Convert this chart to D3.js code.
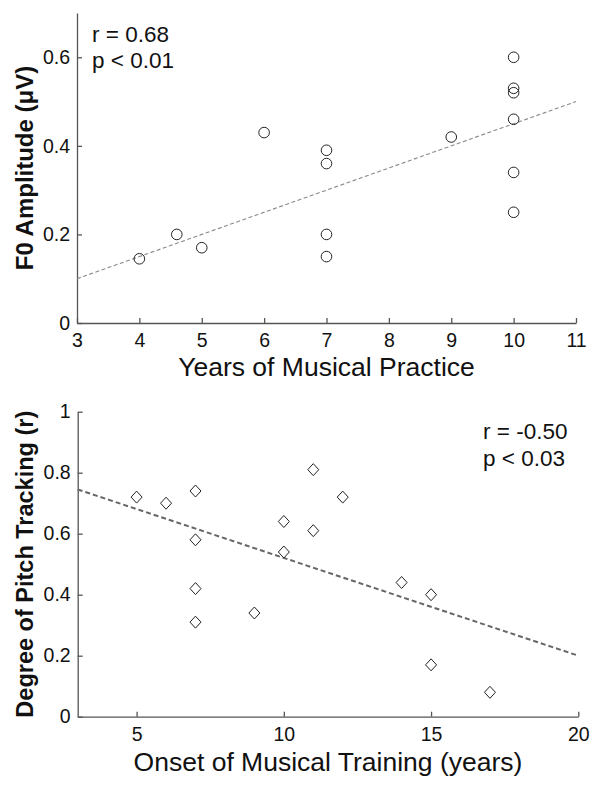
<!DOCTYPE html>
<html>
<head>
<meta charset="utf-8">
<script src="https://cdn.jsdelivr.net/npm/d3@7"></script>
<style>
  body { margin: 0; background: #fff; }
  svg { display: block; font-family: "Liberation Sans", Arial, sans-serif; }
</style>
</head>
<body>
<script>
// top panel: years of practice vs F0 amplitude
var practiceYears = [4, 4.6, 5, 6, 7, 7, 7, 7, 9, 10, 10, 10, 10, 10, 10];
var f0Amplitude = [0.145, 0.2, 0.17, 0.43, 0.39, 0.36, 0.2, 0.15, 0.42, 0.6, 0.53, 0.52, 0.46, 0.34, 0.25];
var topFit = [{x: 3, y: 0.1}, {x: 11, y: 0.5}];
var topXTicks = [3, 4, 5, 6, 7, 8, 9, 10, 11];
var topYTicks = [0, 0.2, 0.4, 0.6];

// bottom panel: onset age vs pitch tracking
var onsetAge = [5, 6, 7, 7, 7, 7, 9, 10, 10, 11, 11, 12, 14, 15, 15, 17];
var pitchTracking = [0.72, 0.70, 0.74, 0.58, 0.42, 0.31, 0.34, 0.64, 0.54, 0.81, 0.61, 0.72, 0.44, 0.40, 0.17, 0.08];
var bottomFit = [{x: 3, y: 0.745}, {x: 20, y: 0.2}];
var bottomXTicks = [5, 10, 15, 20];
var bottomYTicks = [0, 0.2, 0.4, 0.6, 0.8, 1];

var svg = d3.select('body').append('svg')
  .attr('width', 601)
  .attr('height', 789);

function drawAxes(g, x, y, xTicks, yTicks, yFmt) {
  var xAxis = g.append('g')
    .attr('transform', 'translate(0,' + y.range()[0] + ')')
    .call(d3.axisBottom(x).tickValues(xTicks).tickSizeInner(-5).tickSizeOuter(0).tickPadding(10).tickFormat(d3.format('d')));
  var yAxis = g.append('g')
    .attr('transform', 'translate(' + x.range()[0] + ',0)')
    .call(d3.axisLeft(y).tickValues(yTicks).tickSizeInner(-5).tickSizeOuter(0).tickPadding(7).tickFormat(yFmt));
  [xAxis, yAxis].forEach(function (a) {
    a.selectAll('path, line').attr('stroke', '#555').attr('stroke-width', 1.3);
    a.selectAll('text').attr('fill', '#111').style('font-size', '19.5px').style('font-family', '"Liberation Sans", Arial, sans-serif');
  });
}

// ---- top chart
var x1 = d3.scaleLinear().domain([3, 11]).range([77, 576]);
var y1 = d3.scaleLinear().domain([0, 0.7]).range([323, 13]);
var topG = svg.append('g');

drawAxes(topG, x1, y1, topXTicks, topYTicks, function (d) { return d === 0 ? '0' : d3.format('.1f')(d); });

var line1 = d3.line()
  .x(function (d) { return x1(d.x); })
  .y(function (d) { return y1(d.y); });

topG.append('path')
  .attr('d', line1(topFit))
  .attr('fill', 'none')
  .attr('stroke', '#888')
  .attr('stroke-width', 1.1)
  .attr('stroke-dasharray', '4,2.5');

topG.selectAll('circle.pt')
  .data(practiceYears)
  .enter()
  .append('circle')
  .attr('class', 'pt')
  .attr('cx', function (d) { return x1(d); })
  .attr('cy', function (d, i) { return y1(f0Amplitude[i]); })
  .attr('r', 5.3)
  .attr('fill', 'none')
  .attr('stroke', '#222')
  .attr('stroke-width', 1);

topG.append('text').attr('x', 92).attr('y', 42).style('font-size', '22.5px').attr('fill', '#111').text('r = 0.68');
topG.append('text').attr('x', 92).attr('y', 68).style('font-size', '22.5px').attr('fill', '#111').text('p < 0.01');

topG.append('text')
  .attr('x', (x1.range()[0] + x1.range()[1]) / 2)
  .attr('y', 376)
  .attr('text-anchor', 'middle')
  .style('font-size', '26.5px')
  .attr('fill', '#111')
  .text('Years of Musical Practice');

topG.append('text')
  .attr('transform', 'translate(33,' + (y1.range()[0] + y1.range()[1]) / 2 + ') rotate(-90)')
  .attr('text-anchor', 'middle')
  .style('font-size', '24px')
  .style('font-weight', 'bold')
  .attr('fill', '#111')
  .text('F0 Amplitude (μV)');

// ---- bottom chart
var x2 = d3.scaleLinear().domain([3, 20]).range([77.7, 578.3]);
var y2 = d3.scaleLinear().domain([0, 1]).range([716.7, 411.7]);
var bottomG = svg.append('g');

drawAxes(bottomG, x2, y2, bottomXTicks, bottomYTicks, function (d) { return (d === 0 || d === 1) ? String(d) : d3.format('.1f')(d); });

var line2 = d3.line()
  .x(function (d) { return x2(d.x); })
  .y(function (d) { return y2(d.y); });

bottomG.append('path')
  .attr('d', line2(bottomFit))
  .attr('fill', 'none')
  .attr('stroke', '#666')
  .attr('stroke-width', 2)
  .attr('stroke-dasharray', '5,3');

var diamond = 'M0,-6L5.5,0L0,6L-5.5,0Z';
bottomG.selectAll('path.dm')
  .data(onsetAge)
  .enter()
  .append('path')
  .attr('class', 'dm')
  .attr('d', diamond)
  .attr('transform', function (d, i) { return 'translate(' + x2(d) + ',' + y2(pitchTracking[i]) + ')'; })
  .attr('fill', '#fff')
  .attr('stroke', '#222')
  .attr('stroke-width', 1);

bottomG.append('text').attr('x', 483).attr('y', 439).style('font-size', '22.5px').attr('fill', '#111').text('r = -0.50');
bottomG.append('text').attr('x', 483).attr('y', 466).style('font-size', '22.5px').attr('fill', '#111').text('p < 0.03');

bottomG.append('text')
  .attr('x', (x2.range()[0] + x2.range()[1]) / 2)
  .attr('y', 771)
  .attr('text-anchor', 'middle')
  .style('font-size', '26.5px')
  .attr('fill', '#111')
  .text('Onset of Musical Training (years)');

bottomG.append('text')
  .attr('transform', 'translate(33,' + (y2.range()[0] + y2.range()[1]) / 2 + ') rotate(-90)')
  .attr('text-anchor', 'middle')
  .style('font-size', '23.5px')
  .style('font-weight', 'bold')
  .attr('fill', '#111')
  .text('Degree of Pitch Tracking (r)');
</script>
</body>
</html>
